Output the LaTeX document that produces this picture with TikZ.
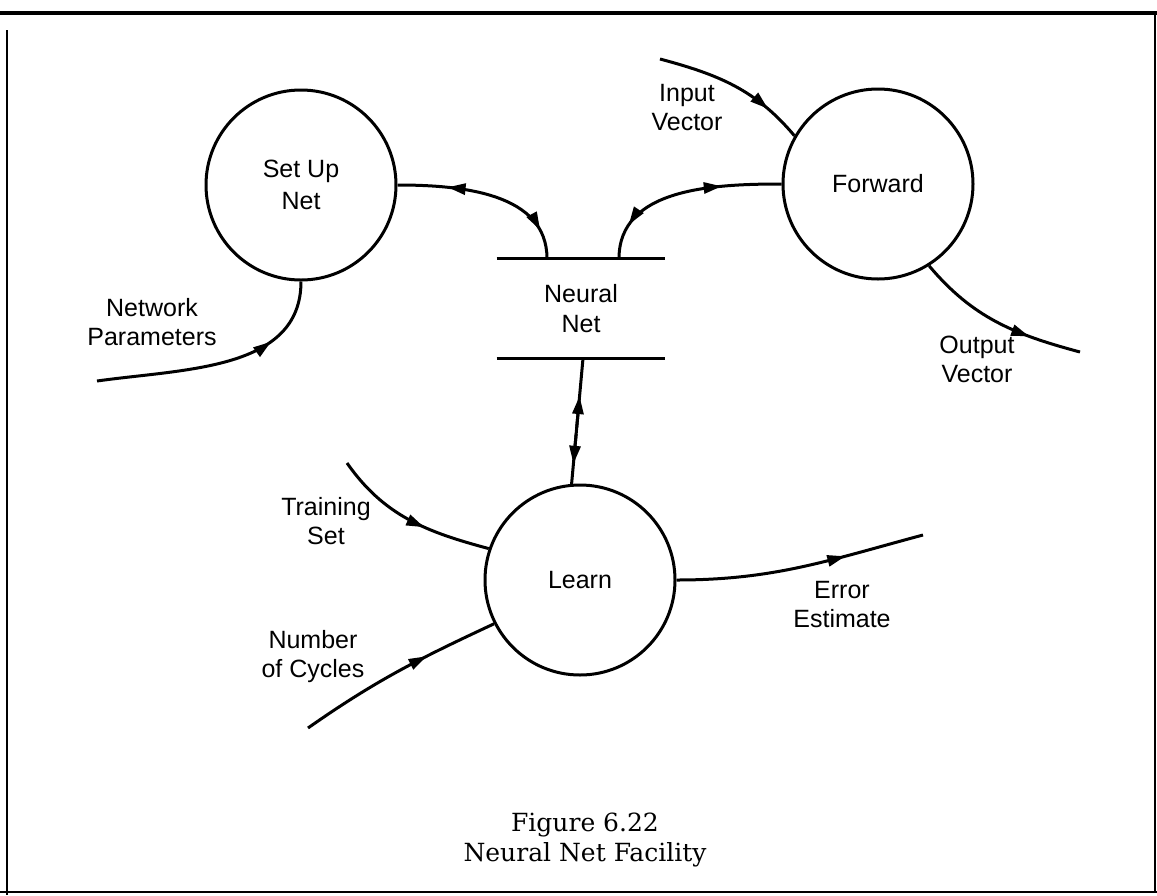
\documentclass[tikz,border=0pt]{standalone}
\usepackage{fontspec}
\setmainfont{Liberation Sans}
\newfontfamily\capfont{DejaVu Serif}
\usepackage{tikz}
\usetikzlibrary{arrows.meta,decorations.markings,calc}
\tikzset{
  procbox/.style={circle,draw,line width=1.5pt,minimum size=95pt,inner sep=0pt,
                  align=center,font=\fontsize{12.5}{16}\selectfont},
  storebox/.style={minimum width=84pt,minimum height=49.5pt,inner sep=0pt,
                   align=center,font=\fontsize{12.5}{15}\selectfont},
  lbl/.style={align=center,font=\fontsize{12.5}{14.5}\selectfont},
  flow/.style={line width=1.5pt},
  head/.style={line width=1.5pt,-{Triangle[length=9pt,width=5.5pt]}},
  fwd/.style={postaction={decorate,decoration={markings,
      mark=at position #1 with {\arrow{Triangle[length=9pt,width=5.5pt]}}}}},
  twoway/.style 2 args={postaction={decorate,decoration={markings,
      mark=at position #1 with {\arrowreversed{Triangle[length=9pt,width=5.5pt]}},
      mark=at position #2 with {\arrow{Triangle[length=9pt,width=5.5pt]}}}}},
}

\begin{document}
\begin{tikzpicture}[x=0.5pt,y=0.5pt]
\useasboundingbox (0,0) rectangle (1157,-895);

% frame
\draw[line width=2pt] (0,-13) -- (1157,-13);
\draw[line width=1.2pt] (7,-30) -- (7,-895);
\draw[line width=1.2pt] (0,-892) -- (1157,-892);
\draw[line width=1.2pt] (1155,-13) -- (1155,-892);

% processes and store
\node[procbox] (setup) at (301,-185) {Set Up\\Net};
\node[procbox] (forward) at (878,-184) {Forward};
\node[procbox] (learn) at (580,-580) {Learn};
\node[storebox] (store) at (581,-308.5) {Neural\\Net};
\draw[line width=1.5pt] (store.north west) -- (store.north east);
\draw[line width=1.5pt] (store.south west) -- (store.south east);

% free ends of the outer flows
\coordinate (np) at (97,-381);
\coordinate (iv) at (660,-59);
\coordinate (ov) at (1080,-352);
\coordinate (ts) at (347,-463);
\coordinate (nc) at (308,-728);
\coordinate (ee) at (923,-535);

% flows
\draw[flow, fwd=0.72] (np) to[out=8,in=-90] (setup.south);
\draw[flow, twoway={0.27}{0.84}] (setup.east) to[out=0,in=90] ([xshift=-17pt]store.north);
\draw[flow, twoway={0.3}{0.82}] (forward.west) to[out=180,in=90] ([xshift=19pt]store.north);
\draw[flow, fwd=0.76] (iv) to[out=-15,in=130] (forward.150);
\draw[flow, fwd=0.7] (forward.-58) to[out=-50,in=165] (ov);
\draw[flow, fwd=0.6] (ts) to[out=-55,in=165] (learn.161);
\draw[flow, fwd=0.65] (nc) to[out=35,in=205] (learn.207);
\draw[flow, fwd=0.68] (learn.east) to[out=0,in=195] (ee);

% store <-> learn, heads part way along
\coordinate (sb) at ([xshift=1pt]store.south);
\draw[flow] (sb) -- (learn.95);
\draw[head] ($(sb)!0.55!(learn.95)$) -- ($(sb)!0.3!(learn.95)$);
\draw[head] ($(sb)!0.6!(learn.95)$) -- ($(sb)!0.84!(learn.95)$);

% flow labels
\node[lbl] (npLabel) at (152,-322) {Network\\Parameters};
\node[lbl] (ivLabel) at (687,-108) {Input\\Vector};
\node[lbl] (ovLabel) at (977,-359) {Output\\Vector};
\node[lbl] (tsLabel) at (326,-521) {Training\\Set};
\node[lbl] (ncLabel) at (313,-657) {Number\\of Cycles};
\node[lbl] (eeLabel) at (842,-605) {Error\\Estimate};

% caption
\node[align=center,font=\capfont\fontsize{12.5}{15}\selectfont] (caption) at (585,-840)
  {Figure 6.22\\Neural Net Facility};
\end{tikzpicture}
\end{document}
